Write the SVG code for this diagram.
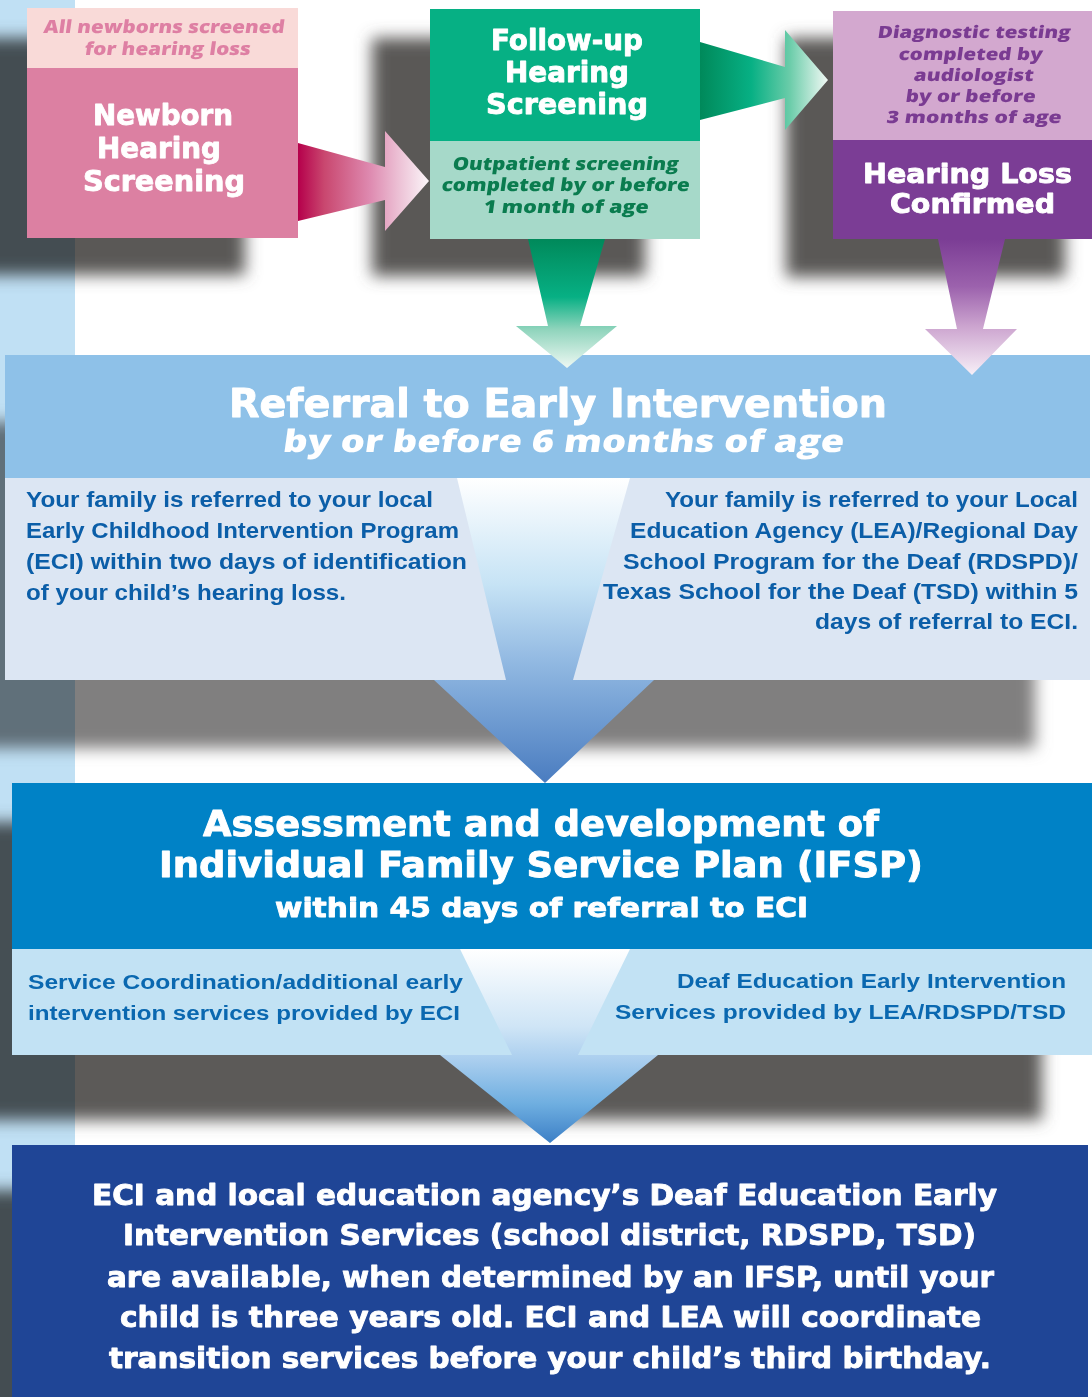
<svg xmlns="http://www.w3.org/2000/svg" width="1092" height="1397" viewBox="0 0 1092 1397">
<defs>
<style>
.h{font-family:"DejaVu Sans","Liberation Sans",sans-serif;font-weight:700;fill:#fff;stroke:#fff;stroke-width:0.9;stroke-linejoin:round}
.it{font-family:"Open Sans","Liberation Sans",sans-serif;font-weight:800}
.b{font-family:"Liberation Sans","Arial",sans-serif;font-weight:700}
.sh{mix-blend-mode:multiply}
</style>
<filter id="blur" x="-10%" y="-10%" width="120%" height="120%"><feGaussianBlur stdDeviation="8"/></filter>
<linearGradient id="gPink" x1="0" y1="0" x2="1" y2="0">
<stop offset="0" stop-color="#b5004b"/><stop offset="0.2" stop-color="#c9476f"/><stop offset="0.55" stop-color="#de8ab0"/><stop offset="0.75" stop-color="#ebbcd2"/><stop offset="1" stop-color="#fbf6f9"/>
</linearGradient>
<linearGradient id="gGreenR" x1="0" y1="0" x2="1" y2="0">
<stop offset="0" stop-color="#00895a"/><stop offset="0.4" stop-color="#07b084"/><stop offset="0.7" stop-color="#6acca9"/><stop offset="1" stop-color="#f2f9f5"/>
</linearGradient>
<linearGradient id="gGreenD" x1="0" y1="0" x2="0" y2="1">
<stop offset="0" stop-color="#00895a"/><stop offset="0.45" stop-color="#07b084"/><stop offset="0.7" stop-color="#8fd4bc"/><stop offset="1" stop-color="#eef8f3"/>
</linearGradient>
<linearGradient id="gPurpleD" x1="0" y1="0" x2="0" y2="1">
<stop offset="0" stop-color="#7b3d95"/><stop offset="0.35" stop-color="#9c62ad"/><stop offset="0.65" stop-color="#cda6d0"/><stop offset="1" stop-color="#f7eff7"/>
</linearGradient>
<linearGradient id="gBlue1" gradientUnits="userSpaceOnUse" x1="0" y1="478" x2="0" y2="783">
<stop offset="0" stop-color="#ffffff"/><stop offset="0.35" stop-color="#c6e3f5"/><stop offset="0.6" stop-color="#92b9e2"/><stop offset="1" stop-color="#4a7cc0"/>
</linearGradient>
<linearGradient id="gBlue2" gradientUnits="userSpaceOnUse" x1="0" y1="949" x2="0" y2="1143">
<stop offset="0" stop-color="#ffffff"/><stop offset="0.4" stop-color="#cfe5f6"/><stop offset="0.58" stop-color="#a8cdee"/><stop offset="0.8" stop-color="#6eaee0"/><stop offset="1" stop-color="#3c7fc6"/>
</linearGradient>
</defs>

<rect x="0" y="0" width="1092" height="1397" fill="#ffffff"/>
<rect id="strip" x="0" y="0" width="75" height="1397" fill="#c0e0f4"/>

<g id="shadows" class="sh" filter="url(#blur)">
<rect x="-30" y="38" width="275" height="237" fill="#5a5856"/>
<rect x="372" y="38" width="273" height="238" fill="#5a5856"/>
<rect x="786" y="38" width="279" height="239" fill="#5a5856"/>
<rect x="-70" y="422" width="1105" height="326" fill="#807f7f"/>
<rect x="-40" y="822" width="1082" height="298" fill="#5b5a59"/>
<rect x="-40" y="1190" width="1080" height="260" fill="#5a5856"/>
</g>

<g id="newborn">
<rect x="27" y="8" width="271" height="60" fill="#f9dad8"/>
<rect x="27" y="68" width="271" height="170" fill="#dc80a2"/>
<g class="it" fill="#de7fa3" font-size="18">
<text transform="translate(43,33) skewX(-8)" textLength="241" lengthAdjust="spacingAndGlyphs">All newborns screened</text>
<text transform="translate(84,55) skewX(-8)" textLength="166" lengthAdjust="spacingAndGlyphs">for hearing loss</text>
</g>
<g class="h" font-size="29">
<text x="93" y="125" textLength="140" lengthAdjust="spacingAndGlyphs">Newborn</text>
<text x="97" y="158" textLength="124" lengthAdjust="spacingAndGlyphs">Hearing</text>
<text x="83" y="191" textLength="162" lengthAdjust="spacingAndGlyphs">Screening</text>
</g>
</g>

<g id="followup">
<rect x="430" y="9" width="270" height="132" fill="#06b084"/>
<rect x="430" y="141" width="270" height="98" fill="#a6d9c9"/>
<g class="h" font-size="29">
<text x="491" y="50" textLength="152" lengthAdjust="spacingAndGlyphs">Follow-up</text>
<text x="505" y="82" textLength="124" lengthAdjust="spacingAndGlyphs">Hearing</text>
<text x="486" y="114" textLength="162" lengthAdjust="spacingAndGlyphs">Screening</text>
</g>
<g class="it" fill="#0a7c4f" font-size="18">
<text transform="translate(452,170) skewX(-8)" textLength="226" lengthAdjust="spacingAndGlyphs">Outpatient screening</text>
<text transform="translate(441,191) skewX(-8)" textLength="248" lengthAdjust="spacingAndGlyphs">completed by or before</text>
<text transform="translate(483,213) skewX(-8)" textLength="165" lengthAdjust="spacingAndGlyphs">1 month of age</text>
</g>
</g>

<g id="confirmed">
<rect x="833" y="11" width="259" height="129" fill="#d3a8cf"/>
<rect x="833" y="140" width="259" height="99" fill="#7b3d95"/>
<g class="it" fill="#7a3b92" font-size="17">
<text transform="translate(877,38) skewX(-8)" textLength="193" lengthAdjust="spacingAndGlyphs">Diagnostic testing</text>
<text transform="translate(898,60) skewX(-8)" textLength="144" lengthAdjust="spacingAndGlyphs">completed by</text>
<text transform="translate(913,81) skewX(-8)" textLength="120" lengthAdjust="spacingAndGlyphs">audiologist</text>
<text transform="translate(905,102) skewX(-8)" textLength="130" lengthAdjust="spacingAndGlyphs">by or before</text>
<text transform="translate(886,123) skewX(-8)" textLength="175" lengthAdjust="spacingAndGlyphs">3 months of age</text>
</g>
<g class="h" font-size="27">
<text x="863" y="183" textLength="209" lengthAdjust="spacingAndGlyphs">Hearing Loss</text>
<text x="890" y="213" textLength="165" lengthAdjust="spacingAndGlyphs">Confirmed</text>
</g>
</g>

<g id="referral">
<rect x="5" y="355" width="1085" height="123" fill="#8ec1e8"/>
<rect x="5" y="478" width="1085" height="202" fill="#dce6f3"/>
<text class="h" font-size="39" x="229" y="417" textLength="658" lengthAdjust="spacingAndGlyphs">Referral to Early Intervention</text>
<text class="it" fill="#ffffff" font-size="31" transform="translate(282,452) skewX(-8)" textLength="561" lengthAdjust="spacingAndGlyphs">by or before 6 months of age</text>
<g class="b" fill="#0b5ea8" font-size="21.5">
<text x="26" y="507" textLength="407" lengthAdjust="spacingAndGlyphs">Your family is referred to your local</text>
<text x="26" y="538" textLength="433" lengthAdjust="spacingAndGlyphs">Early Childhood Intervention Program</text>
<text x="26" y="569" textLength="441" lengthAdjust="spacingAndGlyphs">(ECI) within two days of identification</text>
<text x="26" y="600" textLength="320" lengthAdjust="spacingAndGlyphs">of your child’s hearing loss.</text>
<text x="665" y="507" textLength="413" lengthAdjust="spacingAndGlyphs">Your family is referred to your Local</text>
<text x="630" y="538" textLength="448" lengthAdjust="spacingAndGlyphs">Education Agency (LEA)/Regional Day</text>
<text x="623" y="569" textLength="455" lengthAdjust="spacingAndGlyphs">School Program for the Deaf (RDSPD)/</text>
<text x="603" y="599" textLength="475" lengthAdjust="spacingAndGlyphs">Texas School for the Deaf (TSD) within 5</text>
<text x="815" y="629" textLength="263" lengthAdjust="spacingAndGlyphs">days of referral to ECI.</text>
</g>
</g>

<g id="ifsp">
<rect x="12" y="783" width="1080" height="166" fill="#0082c6"/>
<rect x="12" y="949" width="1080" height="106" fill="#c2e2f4"/>
<g class="h">
<text font-size="35" x="203" y="836" textLength="676" lengthAdjust="spacingAndGlyphs">Assessment and development of</text>
<text font-size="35" x="159" y="877" textLength="764" lengthAdjust="spacingAndGlyphs">Individual Family Service Plan (IFSP)</text>
<text font-size="27" x="275" y="917" textLength="533" lengthAdjust="spacingAndGlyphs">within 45 days of referral to ECI</text>
</g>
<g class="b" fill="#0a68b0" font-size="20">
<text x="28" y="989" textLength="435" lengthAdjust="spacingAndGlyphs">Service Coordination/additional early</text>
<text x="28" y="1020" textLength="432" lengthAdjust="spacingAndGlyphs">intervention services provided by ECI</text>
<text x="677" y="988" textLength="389" lengthAdjust="spacingAndGlyphs">Deaf Education Early Intervention</text>
<text x="615" y="1019" textLength="451" lengthAdjust="spacingAndGlyphs">Services provided by LEA/RDSPD/TSD</text>
</g>
</g>

<g id="services">
<rect x="12" y="1145" width="1076" height="252" fill="#1f4596"/>
<g class="h" font-size="28">
<text x="92" y="1205" textLength="905" lengthAdjust="spacingAndGlyphs">ECI and local education agency’s Deaf Education Early</text>
<text x="123" y="1245" textLength="853" lengthAdjust="spacingAndGlyphs">Intervention Services (school district, RDSPD, TSD)</text>
<text x="107" y="1287" textLength="887" lengthAdjust="spacingAndGlyphs">are available, when determined by an IFSP, until your</text>
<text x="120" y="1327" textLength="861" lengthAdjust="spacingAndGlyphs">child is three years old. ECI and LEA will coordinate</text>
<text x="109" y="1368" textLength="882" lengthAdjust="spacingAndGlyphs">transition services before your child’s third birthday.</text>
</g>
</g>

<g id="connectors">
<polygon points="298,143 385,167 385,131 429,181 385,231 385,200 298,221" fill="url(#gPink)"/>
<polygon points="700,42 785,67 785,30 828,80 785,130 785,98 700,120" fill="url(#gGreenR)"/>
<polygon points="528,239 605,239 580,326 617,326 567,368 516,326 548,326" fill="url(#gGreenD)"/>
<polygon points="938,239 1005,239 983,329 1017,329 972,375 925,329 957,329" fill="url(#gPurpleD)"/>
<polygon points="457,478 630,478 573,680 654,680 545,783 434,680 506,680" fill="url(#gBlue1)"/>
<polygon points="460,949 630,949 578,1055 658,1055 550,1143 440,1055 512,1055" fill="url(#gBlue2)"/>
</g>
</svg>
